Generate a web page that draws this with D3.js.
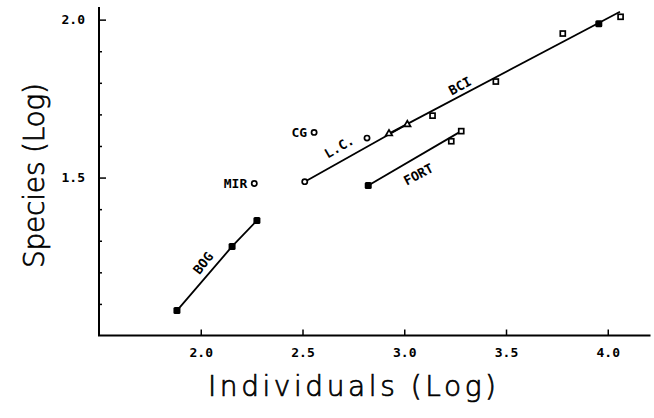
<!DOCTYPE html>
<html><head><meta charset="utf-8">
<script src="https://cdn.jsdelivr.net/npm/d3@7"></script>
<style>
html,body{margin:0;padding:0;background:#fff;}
svg{display:block;}
.tick-lab{font-family:"DejaVu Sans Mono",monospace;font-weight:bold;font-size:13px;fill:#000;}
.lab{font-family:"DejaVu Sans Mono",monospace;font-weight:bold;font-size:13px;fill:#000;}
.title{font-family:"DejaVu Sans",sans-serif;font-weight:200;font-size:28px;fill:#000;stroke:#000;stroke-width:0.7px;}
</style></head>
<body>
<svg id="c" width="654" height="418"></svg>
<script>
// ---- data (log10 individuals, log10 species) ----
const bogX = [1.883, 2.154, 2.276];
const bogY = [1.079, 1.282, 1.364];
const fortX = [2.823, 3.231, 3.280];
const fortY = [1.475, 1.615, 1.647];
const lcX = [2.511, 2.817];
const lcY = [1.487, 1.625];
const lcLineX = [2.511, 3.012];
const lcLineY = [1.487, 1.668];
const triX = [2.925, 3.015];
const triY = [1.639, 1.668];
const bciX = [3.139, 3.450, 3.779, 4.063];
const bciY = [1.696, 1.804, 1.956, 2.009];
const bciFilledX = [3.956];
const bciFilledY = [1.987];
const bciLineX = [2.925, 4.060];
const bciLineY = [1.639, 2.025];
const singleNames = ["MIR", "CG"];
const singleX = [2.263, 2.557];
const singleY = [1.481, 1.643];
const xTicks = [2.0, 2.5, 3.0, 3.5, 4.0];
const xTickLabels = ["2.0", "2.5", "3.0", "3.5", "4.0"];
const yMajor = [1.5, 2.0];
const yMajorLabels = ["1.5", "2.0"];
const yMinor = [1.1, 1.2, 1.3, 1.4, 1.6, 1.7, 1.8, 1.9];

const svg = d3.select("#c");
const x = d3.scaleLinear().domain([1.5, 4.21]).range([99, 650.5]);
const y = d3.scaleLinear().domain([1.0, 2.04]).range([335.5, 7]);

const axG = svg.append("g").attr("stroke", "#000").attr("stroke-width", 2).attr("fill", "none");
axG.append("path").attr("d", `M${x(1.5)},${y(2.04)} L${x(1.5)},${y(1.0)} L${x(4.21)},${y(1.0)}`);

const xAxis = svg.append("g").attr("transform", `translate(0,${y(1.0)})`)
  .call(d3.axisBottom(x).tickValues(xTicks).tickSize(-6).tickFormat((d,i)=>xTickLabels[i]).tickPadding(14));
xAxis.select(".domain").remove();
xAxis.selectAll(".tick line").attr("stroke", "#000").attr("stroke-width", 1.5);
xAxis.selectAll(".tick text").attr("class", "tick-lab").attr("y", 12).attr("dy", "0.71em");

const yAxis = svg.append("g").attr("transform", `translate(${x(1.5)},0)`)
  .call(d3.axisLeft(y).tickValues(yMajor).tickSize(-7).tickFormat((d,i)=>yMajorLabels[i]).tickPadding(16));
yAxis.select(".domain").remove();
yAxis.selectAll(".tick line").attr("stroke", "#000").attr("stroke-width", 1.5);
yAxis.selectAll(".tick text").attr("class", "tick-lab").attr("x", -14);

const yMin = svg.append("g").attr("transform", `translate(${x(1.5)},0)`)
  .call(d3.axisLeft(y).tickValues(yMinor).tickSize(-3).tickFormat(""));
yMin.select(".domain").remove();
yMin.selectAll(".tick line").attr("stroke", "#000").attr("stroke-width", 1.5);

// lines
const line = d3.line().x(d => x(d[0])).y(d => y(d[1]));
const lg = svg.append("g").attr("stroke", "#000").attr("stroke-width", 1.8).attr("fill", "none");
lg.append("path").attr("d", line(d3.zip(bogX, bogY)));
lg.append("path").attr("d", line([[fortX[0], fortY[0]], [fortX[2], fortY[2]]]));
lg.append("path").attr("d", line(d3.zip(lcLineX, lcLineY)));
lg.append("path").attr("d", line(d3.zip(bciLineX, bciLineY)));

const mk = svg.append("g");
const filled = d3.zip(bogX, bogY).concat([[fortX[0], fortY[0]]]).concat(d3.zip(bciFilledX, bciFilledY));
mk.selectAll("rect.f").data(filled).join("rect").attr("class","f")
  .attr("x", d => x(d[0]) - 3.5).attr("y", d => y(d[1]) - 3.5)
  .attr("width", 7).attr("height", 7).attr("rx", 1.5).attr("fill", "#000");
const openSq = d3.zip(bciX, bciY).concat(d3.zip(fortX.slice(1), fortY.slice(1)));
mk.selectAll("rect.o").data(openSq).join("rect").attr("class","o")
  .attr("x", d => x(d[0]) - 2.5).attr("y", d => y(d[1]) - 2.5)
  .attr("width", 5).attr("height", 5).attr("fill", "#fff").attr("stroke", "#000").attr("stroke-width", 1.7);
const openC = d3.zip(singleX, singleY).concat(d3.zip(lcX, lcY));
mk.selectAll("circle.o").data(openC).join("circle").attr("class","o")
  .attr("cx", d => x(d[0])).attr("cy", d => y(d[1])).attr("r", 2.6)
  .attr("fill", "#fff").attr("stroke", "#000").attr("stroke-width", 1.7);
const tri = d3.symbol().type(d3.symbolTriangle).size(18);
mk.selectAll("path.t").data(d3.zip(triX, triY)).join("path").attr("class","t")
  .attr("transform", d => `translate(${x(d[0])},${y(d[1])})`).attr("d", tri)
  .attr("fill", "#fff").attr("stroke", "#000").attr("stroke-width", 1.7);

// series labels
const labs = [
  {t: "BOG", cx: 2.012, cy: 1.229, rot: -52},
  {t: "L.C.", cx: 2.68, cy: 1.597, rot: -30},
  {t: "BCI", cx: 3.274, cy: 1.790, rot: -28},
  {t: "FORT", cx: 3.07, cy: 1.51, rot: -28}
];
svg.append("g").selectAll("text").data(labs).join("text").attr("class", "lab")
  .attr("text-anchor", "middle").attr("dominant-baseline", "central")
  .attr("transform", d => `translate(${x(d.cx)},${y(d.cy)}) rotate(${d.rot})`)
  .text(d => d.t);
svg.append("g").selectAll("text").data(singleNames).join("text").attr("class", "lab")
  .attr("text-anchor", "end").attr("dominant-baseline", "central")
  .attr("x", (d,i) => x(singleX[i]) - 7).attr("y", (d,i) => y(singleY[i]))
  .text(d => d);

// titles
svg.append("text").attr("class", "title").attr("x", 208).attr("y", 396)
  .attr("textLength", 288).attr("lengthAdjust", "spacing").text("Individuals (Log)");
svg.append("text").attr("class", "title").attr("transform", "translate(44,268) rotate(-90)")
  .attr("textLength", 185).attr("lengthAdjust", "spacing").text("Species (Log)");
</script>
</body></html>
